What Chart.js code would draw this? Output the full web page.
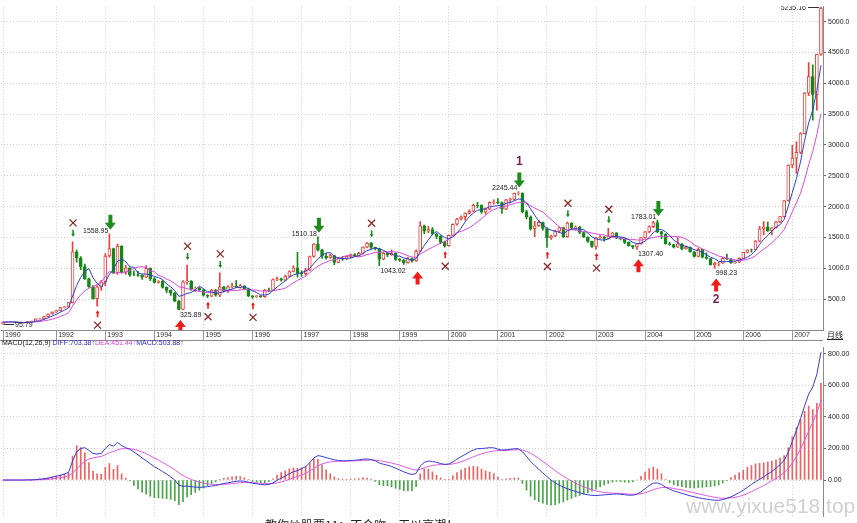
<!DOCTYPE html>
<html>
<head>
<meta charset="utf-8">
<script src="https://cdn.jsdelivr.net/npm/chart.js@4.4.0/dist/chart.umd.min.js"></script>
<style>
body { margin: 0; background: #fff; }
#wrap { position: relative; width: 857px; height: 523px; overflow: hidden; background: #fff; font-family: "Liberation Sans", Arial, sans-serif; }
canvas { position: absolute; left: 0; }
#main { top: 0; }
#macd { top: 341px; }
#macdTitle { position: absolute; left: 2px; top: 339px; font-size: 7px; line-height: 8px; white-space: nowrap; color: #111; font-family: "Liberation Sans", "DejaVu Sans", sans-serif; }
#yue { position: absolute; left: 827px; top: 330px; font-size: 8px; line-height: 10px; text-decoration: underline; color: #222; font-family: "Noto Sans CJK SC", sans-serif; }
#wm { position: absolute; left: 686px; top: 494px; font-size: 21px; color: rgba(170,170,170,0.55); white-space: nowrap; }
#caption { position: absolute; left: 265px; top: 516px; font-size: 12px; color: #222; white-space: nowrap; font-family: "Noto Sans CJK SC", sans-serif; }
</style>
</head>
<body>
<div id="wrap">
  <canvas id="main" width="857" height="341"></canvas>
  <canvas id="macd" width="857" height="182"></canvas>
  <div id="macdTitle">MACD(12,26,9) <span style="color:#2a2ad0">DIFF:703.38↑</span><span style="color:#d23cd2">DEA:451.44↑</span><span style="color:#2a2ad0">MACD:503.88↑</span></div>
  <div id="yue">月线</div>
  <div id="wm">www.yixue518.top</div>
  <div id="caption">教你炒股票11：不会吻，无以高潮！</div>
</div>
<script>
// monthly bars, Dec 1990 .. Aug 2007
const opens = [96,128,130,133,120,114,115,137,145,180,181,218,259,293,313,364,370,445,1266,1167,1028,830,700,510,700,780,1200,1320,926,1358,935,1007,896,893,886,857,1001,834,772,792,690,642,599,467,333,780,790,660,680,648,563,549,647,563,701,630,700,712,700,717,669,555,537,552,539,646,643,819,828,807,874,949,1007,917,915,970,1191,1393,1300,1200,1167,1205,1097,1166,1150,1194,1222,1206,1243,1343,1411,1339,1322,1150,1242,1217,1247,1146,1134,1090,1158,1120,1279,1689,1601,1627,1557,1517,1422,1367,1535,1715,1800,1836,1894,1928,2023,2021,1910,1961,2070,2073,2065,1958,2112,2119,2214,2218,1920,1834,1642,1690,1747,1646,1491,1524,1603,1662,1515,1733,1652,1670,1581,1507,1436,1357,1499,1511,1486,1521,1576,1487,1477,1421,1367,1348,1397,1497,1590,1675,1741,1595,1555,1399,1387,1342,1396,1320,1340,1266,1191,1306,1181,1159,1060,1080,1083,1162,1155,1092,1099,1161,1258,1299,1298,1440,1641,1672,1612,1658,1752,1837,2099,2675,2786,2881,3183,3841,4109,3820,4471];
const highs = [128,135,134,134,121,116,138,146,181,190,220,262,293,314,366,382,450,1429,1300,1190,1070,840,720,720,800,1240,1558.95,1330,1392,1370,1050,1010,960,950,900,1044,1010,850,800,800,700,650,610,480,800,1052,800,700,690,660,570,660,660,926,710,720,760,800,740,720,680,560,560,560,660,680,830,860,840,890,960,1040,1258,960,1000,1200,1400,1510.18,1310,1240,1230,1210,1180,1190,1200,1230,1240,1260,1350,1420,1422,1345,1330,1260,1250,1300,1250,1160,1140,1180,1170,1300,1756,1700,1680,1660,1570,1530,1440,1540,1720,1810,1850,1900,1950,2040,2070,2030,1980,2080,2110,2130,2080,2120,2140,2220,2245.44,2225,1940,1850,1760,1780,1750,1660,1540,1620,1670,1670,1748,1740,1690,1680,1590,1510,1440,1500,1530,1520,1649,1580,1580,1500,1480,1430,1370,1400,1500,1600,1690,1760,1783.01,1600,1560,1420,1390,1500,1400,1360,1350,1270,1330,1310,1250,1160,1100,1100,1180,1230,1160,1110,1170,1260,1300,1310,1450,1680,1757,1750,1660,1760,1840,2100,2680,2994,3049,3200,3850,4335,4300,4471,5235.16];
const lows = [95.79,127,129,118,110,105,114,136,144,176,180,216,258,285,310,355,365,440,1100,980,820,690,500,386.85,640,720,1180,920,900,920,900,870,880,870,820,850,800,760,760,680,600,560,460,325.89,330,740,640,620,630,550,524,540,550,540,620,610,680,690,680,650,540,512.83,530,530,530,620,640,800,790,800,860,940,855,870,890,960,1180,1280,1160,1150,1160,1060,1090,1130,1140,1170,1190,1200,1230,1330,1320,1300,1043.02,1140,1190,1210,1130,1110,1064,1085,1100,1110,1270,1560,1580,1540,1480,1400,1341,1360,1530,1700,1780,1780,1880,1920,1980,1890,1880,1950,2040,2050,1890,1950,2060,2100,2190,1900,1800,1620,1514,1680,1620,1339,1470,1510,1580,1500,1500,1640,1620,1560,1500,1420,1340,1311.68,1480,1440,1480,1500,1480,1460,1400,1360,1320,1307.4,1390,1490,1580,1660,1580,1480,1390,1370,1330,1340,1300,1310,1260,1180,1185,1170,1150,1050,998.23,1040,1080,1140,1080,1080,1095,1160,1250,1260,1290,1430,1540,1600,1540,1650,1740,1830,2090,2630,2540,2860,3180,3800,3404,3563,4450];
const closes = [128,130,133,120,114,115,137,145,180,181,218,259,292,313,364,370,445,1266,1167,1028,830,700,510,700,780,1200,1320,926,1358,935,1007,896,893,886,857,1001,834,772,792,690,642,599,467,333,780,790,660,680,648,563,549,647,563,701,630,700,712,700,717,669,555,537,552,539,646,643,819,828,807,874,949,1007,917,915,970,1191,1393,1300,1200,1167,1205,1097,1166,1150,1194,1222,1206,1243,1343,1411,1339,1322,1150,1242,1217,1247,1146,1134,1090,1158,1120,1279,1689,1601,1627,1557,1517,1422,1367,1535,1715,1800,1836,1894,1928,2023,2021,1910,1961,2070,2073,2065,1958,2112,2119,2214,2218,1920,1834,1642,1690,1747,1646,1491,1524,1603,1662,1515,1733,1652,1670,1581,1507,1436,1357,1499,1511,1486,1521,1576,1487,1477,1421,1367,1348,1397,1497,1590,1675,1741,1595,1555,1399,1387,1342,1396,1320,1340,1266,1191,1306,1181,1159,1060,1080,1083,1162,1155,1092,1099,1161,1258,1299,1298,1440,1641,1672,1612,1658,1752,1837,2099,2675,2786,2881,3183,3841,4109,3820,4471,5219];
const ma5 = [128,129,130,128,125,122,124,126,138,152,172,197,226,253,289,320,357,552,722,855,947,998,847,754,704,778,902,985,1117,1148,1109,1024,1018,923,908,907,894,870,851,818,746,699,638,546,564,594,606,649,712,668,620,617,594,605,618,648,661,689,692,700,671,636,606,570,566,583,640,695,749,794,855,893,911,932,952,1000,1077,1154,1211,1250,1253,1194,1167,1157,1162,1166,1188,1203,1242,1285,1308,1332,1313,1293,1254,1236,1200,1197,1167,1155,1130,1156,1267,1369,1463,1551,1598,1545,1498,1480,1511,1568,1651,1756,1835,1896,1940,1955,1969,1997,2007,2016,2025,2056,2065,2094,2124,2117,2061,1966,1861,1767,1712,1643,1620,1602,1585,1559,1607,1633,1646,1630,1629,1569,1510,1476,1462,1458,1475,1519,1516,1509,1496,1466,1420,1402,1406,1440,1501,1580,1620,1631,1593,1535,1456,1416,1369,1357,1333,1303,1285,1257,1221,1179,1157,1113,1109,1108,1114,1118,1134,1153,1182,1223,1291,1387,1470,1533,1605,1667,1706,1792,2004,2230,2456,2725,3073,3360,3567,3885,4292];
const ma10 = [128,129,130,128,125,123,125,127,133,138,147,160,176,195,220,246,277,389,488,572,633,678,699,738,780,863,950,916,935,926,944,963,1002,1020,1028,1008,959,944,887,863,826,797,754,699,691,670,653,643,629,616,607,612,621,658,643,634,639,641,648,659,659,648,647,631,633,627,638,651,660,680,719,766,803,841,873,928,985,1032,1072,1101,1127,1136,1160,1184,1206,1209,1191,1185,1199,1224,1237,1260,1258,1267,1270,1272,1266,1255,1230,1205,1183,1178,1232,1268,1309,1340,1377,1406,1434,1471,1531,1583,1598,1627,1657,1704,1754,1803,1862,1916,1952,1978,1990,2012,2031,2050,2070,2071,2058,2016,1977,1945,1914,1852,1793,1732,1676,1635,1625,1626,1624,1608,1594,1588,1572,1561,1546,1543,1522,1514,1496,1486,1477,1470,1469,1459,1458,1468,1484,1500,1511,1519,1516,1518,1518,1518,1500,1475,1434,1379,1350,1313,1289,1256,1230,1199,1183,1164,1147,1138,1123,1131,1145,1169,1205,1261,1312,1357,1414,1479,1547,1631,1768,1917,2061,2216,2432,2682,2898,3170,3508];
const diff = [0,0,0,0,0,0,1,1,3,5,8,12,18,24,30,38,48,120,180,200,205,188,168,165,168,200,225,215,238,218,205,195,178,160,140,122,103,85,70,54,38,20,0,-32,-40,-38,-42,-45,-46,-45,-42,-38,-35,-28,-22,-18,-12,-8,-6,-8,-14,-20,-24,-28,-30,-28,-18,-2,12,25,40,52,60,72,85,110,140,155,150,142,135,128,124,122,122,124,125,128,132,133,130,122,108,100,94,86,75,64,52,42,35,42,88,112,120,118,112,105,99,102,115,132,148,162,178,190,199,200,202,205,204,196,190,192,195,198,199,180,150,118,92,68,45,22,0,-18,-32,-45,-55,-65,-72,-80,-88,-93,-97,-98,-96,-94,-92,-90,-88,-90,-93,-96,-96,-90,-75,-55,-35,-20,-18,-28,-45,-58,-68,-76,-84,-92,-100,-106,-112,-117,-121,-125,-128,-128,-124,-116,-106,-94,-80,-64,-46,-28,-10,5,20,38,55,75,98,125,175,245,315,390,470,545,590,670,810];
const dea = [0,0,0,0,0,0,0,0,1,2,3,5,7,11,15,19,25,44,71,97,119,133,140,145,150,160,173,181,192,198,199,198,195,188,178,167,154,140,126,112,97,82,65,46,29,15,4,-6,-14,-20,-25,-27,-29,-29,-27,-25,-23,-20,-17,-15,-15,-16,-18,-20,-22,-23,-22,-18,-12,-5,4,14,23,33,43,57,73,90,102,110,115,118,119,119,120,121,122,123,125,126,127,126,123,118,113,108,101,94,85,77,68,63,68,77,86,92,96,98,98,99,102,108,116,125,136,147,157,166,173,179,184,187,187,188,190,191,193,190,182,169,154,137,118,99,79,60,42,24,8,-6,-20,-32,-43,-53,-62,-69,-74,-78,-81,-83,-84,-85,-87,-89,-90,-90,-87,-81,-72,-61,-53,-48,-47,-49,-53,-58,-63,-69,-75,-81,-87,-93,-99,-104,-109,-113,-115,-115,-113,-110,-104,-96,-86,-74,-61,-48,-35,-20,-5,11,28,48,73,108,149,197,252,310,366,427,504];
const macdBars = [0,0,0,0,0,0,2,1,4,7,10,14,21,27,31,37,46,152,218,206,172,110,56,40,36,80,104,68,92,40,12,-6,-34,-56,-77,-90,-103,-111,-113,-116,-118,-123,-131,-156,-137,-107,-92,-78,-64,-50,-35,-22,-12,1,11,15,21,24,22,14,2,-8,-13,-17,-17,-10,8,32,48,59,71,76,74,78,83,107,133,131,97,64,40,21,10,5,4,7,7,10,15,13,6,-8,-29,-36,-38,-43,-52,-60,-67,-69,-67,-42,40,70,69,52,32,14,2,6,26,48,64,74,84,87,84,69,58,51,39,19,5,8,11,13,12,-21,-64,-103,-124,-137,-147,-154,-159,-156,-147,-138,-127,-117,-105,-97,-90,-80,-71,-58,-43,-31,-22,-14,-8,-10,-13,-15,-12,0,24,51,73,82,69,39,4,-17,-30,-37,-42,-47,-50,-50,-49,-47,-44,-42,-38,-31,-18,-2,15,31,47,63,80,92,103,106,109,116,120,128,139,155,204,275,332,386,436,469,447,486,613];

const yearIdx = [0,13,25,37,49,61,73,85,97,109,121,133,145,157,169,181,193];
const yearNames = ['1990','1992','1993','1994','1995','1996','1997','1998','1999','2000','2001','2002','2003','2004','2005','2006','2007'];
const priceTicks = [500,1000,1500,2000,2500,3000,3500,4000,4500,5000];
const macdTicks = [0,200,400,600,800];

// signals on the price pane
const topSignals = [26, 77, 126, 160];
const bottomSignals = [43, 101, 155, 174];
const peakMarks = [17, 45, 53, 90, 138, 148];
const troughMarks = [23, 50, 61, 108, 133, 145];
const highLabels = [26, 77, 126, 160];
const lowLabels = [43, 92, 155, 174];

const months = [];
for (let i = 0; i < closes.length; i++) {
  const m = 11 + i;
  months.push((1990 + Math.floor(m / 12)) + '-' + String(m % 12 + 1).padStart(2, '0'));
}

const FONT = '"Liberation Sans", Arial, sans-serif';
const UP = '#e8403c', DOWN = '#16881a', GRID = '#cfcfcf';
const isUp = i => closes[i] >= opens[i];

const keepYears = axis => { axis.ticks = axis.ticks.filter(t => yearIdx.includes(t.value)); };
const yearLabel = v => { const k = yearIdx.indexOf(v); return k >= 0 ? yearNames[k] : ''; };

function arrow(ctx, x, tip, dir, s, color) {
  // dir 1 -> points down, -1 -> points up
  ctx.fillStyle = color;
  ctx.beginPath();
  ctx.moveTo(x, tip);
  ctx.lineTo(x - s.head / 2, tip - dir * s.headH);
  ctx.lineTo(x - s.shaft / 2, tip - dir * s.headH);
  ctx.lineTo(x - s.shaft / 2, tip - dir * s.len);
  ctx.lineTo(x + s.shaft / 2, tip - dir * s.len);
  ctx.lineTo(x + s.shaft / 2, tip - dir * s.headH);
  ctx.lineTo(x + s.head / 2, tip - dir * s.headH);
  ctx.closePath();
  ctx.fill();
}
function cross(ctx, x, y) {
  ctx.strokeStyle = '#8a2828';
  ctx.lineWidth = 1.3;
  ctx.beginPath();
  ctx.moveTo(x - 3.5, y - 3.5); ctx.lineTo(x + 3.5, y + 3.5);
  ctx.moveTo(x + 3.5, y - 3.5); ctx.lineTo(x - 3.5, y + 3.5);
  ctx.stroke();
}
const BIG = {head: 11, headH: 7, shaft: 4, len: 15};
const BIGUP = {head: 11, headH: 7, shaft: 4, len: 13};
const SMALL = {head: 4, headH: 3, shaft: 1.6, len: 7};

const signalPlugin = {
  id: 'signals',
  afterDatasetsDraw(chart) {
    const ctx = chart.ctx, xs = chart.scales.x, ys = chart.scales.y, a = chart.chartArea;
    const cx = i => xs.getPixelForValue(i);
    const hy = i => ys.getPixelForValue(highs[i]);
    const ly = i => ys.getPixelForValue(lows[i]);
    ctx.save();
    ctx.beginPath(); ctx.rect(a.left, a.top, a.right - a.left, a.bottom - a.top); ctx.clip();
    topSignals.forEach(i => arrow(ctx, cx(i) + 1, hy(i) - 4, 1, BIG, '#1c8c1c'));
    bottomSignals.forEach(i => arrow(ctx, cx(i) + 1.5, ly(i) + 10, -1, BIGUP, '#f01c1c'));
    peakMarks.forEach(i => { arrow(ctx, cx(i) + 0.5, hy(i) - 5, 1, SMALL, '#1c8c1c'); cross(ctx, cx(i) + 0.5, hy(i) - 19); });
    troughMarks.forEach(i => { arrow(ctx, cx(i) + 0.5, ly(i) + 4, -1, SMALL, '#f01c1c'); cross(ctx, cx(i) + 0.5, ly(i) + 19); });

    ctx.font = '7px ' + FONT;
    ctx.fillStyle = '#222';
    ctx.textBaseline = 'middle';
    ctx.textAlign = 'right';
    highLabels.forEach(i => ctx.fillText(highs[i].toFixed(2), cx(i) - 1, hy(i) - 3));
    ctx.textAlign = 'left';
    lowLabels.forEach(i => ctx.fillText(lows[i].toFixed(2), cx(i) + 1, ly(i) + 5));

    // leader labels at first low and last high
    ctx.strokeStyle = '#333'; ctx.lineWidth = 1;
    const f = 0, l = closes.length - 1;
    ctx.beginPath();
    ctx.moveTo(cx(f) + 1, Math.round(ly(f)) + 0.5); ctx.lineTo(cx(f) + 11, Math.round(ly(f)) + 0.5);
    ctx.moveTo(cx(l) - 2, Math.round(hy(l)) + 0.5); ctx.lineTo(cx(l) - 13, Math.round(hy(l)) + 0.5);
    ctx.stroke();
    ctx.fillText(lows[f].toFixed(2), cx(f) + 12, ly(f) + 1);
    ctx.textAlign = 'right';
    ctx.fillText(highs[l].toFixed(2), cx(l) - 15, hy(l) + 1);

    ctx.font = 'bold 12px ' + FONT;
    ctx.fillStyle = '#7b1c4c';
    ctx.textAlign = 'center';
    ctx.fillText('1', cx(topSignals[2]) + 1, hy(topSignals[2]) - 30);
    ctx.fillText('2', cx(bottomSignals[3]) + 1.5, ly(bottomSignals[3]) + 31);
    ctx.restore();

    // lower border of the year strip
    ctx.save();
    ctx.strokeStyle = '#8a8a8a'; ctx.lineWidth = 1;
    ctx.beginPath(); ctx.moveTo(0, 340.5); ctx.lineTo(a.right, 340.5); ctx.stroke();
    ctx.restore();
  }
};

new Chart(document.getElementById('main'), {
  type: 'bar',
  data: {
    labels: months,
    datasets: [
      {type: 'line', data: ma5, borderColor: '#2f3fd0', borderWidth: 1, pointRadius: 0, tension: 0, order: 0},
      {type: 'line', data: ma10, borderColor: '#d94ad9', borderWidth: 1, pointRadius: 0, tension: 0, order: 0},
      {
        data: opens.map((o, i) => [o, closes[i]]),
        backgroundColor: closes.map((c, i) => isUp(i) ? '#ffffff' : DOWN),
        borderColor: closes.map((c, i) => isUp(i) ? UP : DOWN),
        borderWidth: 1, borderSkipped: false, barThickness: 3, grouped: false, order: 1
      },
      {
        data: lows.map((lo, i) => [lo, highs[i]]),
        backgroundColor: closes.map((c, i) => isUp(i) ? UP : DOWN),
        borderWidth: 0, barThickness: 1, grouped: false, order: 2
      }
    ]
  },
  options: {
    animation: false, responsive: false, devicePixelRatio: 1,
    layout: {padding: {left: 1, right: 0, top: 0, bottom: 0}},
    plugins: {legend: {display: false}, tooltip: {enabled: false}},
    scales: {
      x: {
        offset: true,
        grid: {offset: false, color: GRID, tickLength: 11, tickColor: '#999', tickBorderDash: []},
        border: {display: true, color: '#8a8a8a', dash: [1, 2]},
        ticks: {autoSkip: false, maxRotation: 0, minRotation: 0, align: 'start', labelOffset: 2, padding: -10,
                font: {size: 7, family: FONT}, color: '#333', callback: yearLabel},
        afterBuildTicks: keepYears,
        afterFit: axis => { axis.height = 11; }
      },
      y: {
        position: 'right', min: 0, max: 5250,
        grid: {color: GRID, tickLength: 3, tickColor: '#666', tickBorderDash: []},
        border: {color: '#8a8a8a', dash: [1, 2]},
        ticks: {autoSkip: false, padding: 2, font: {size: 7, family: FONT}, color: '#222', callback: v => Number(v).toFixed(1)},
        afterBuildTicks: axis => { axis.ticks = priceTicks.map(v => ({value: v})); },
        afterFit: axis => { axis.width = 34; }
      }
    }
  },
  plugins: [signalPlugin]
});

new Chart(document.getElementById('macd'), {
  type: 'bar',
  data: {
    labels: months,
    datasets: [
      {type: 'line', data: diff, borderColor: '#3a3ad4', borderWidth: 1, pointRadius: 0, tension: 0, order: 0},
      {type: 'line', data: dea, borderColor: '#e05ae0', borderWidth: 1, pointRadius: 0, tension: 0, order: 0},
      {data: macdBars, backgroundColor: macdBars.map(v => v >= 0 ? '#e86464' : '#46a646'),
       borderWidth: 0, barThickness: 1, grouped: false, order: 1}
    ]
  },
  options: {
    animation: false, responsive: false, devicePixelRatio: 1,
    layout: {padding: {left: 1, right: 0, top: 2, bottom: 0}},
    plugins: {legend: {display: false}, tooltip: {enabled: false}},
    scales: {
      x: {
        offset: true,
        grid: {offset: false, color: GRID, drawTicks: false},
        border: {display: false, dash: [1, 2]},
        ticks: {display: false, autoSkip: false},
        afterBuildTicks: keepYears,
        afterFit: axis => { axis.height = 0; }
      },
      y: {
        position: 'right', min: -233, max: 842,
        grid: {color: GRID, tickLength: 3, tickColor: '#666', tickBorderDash: []},
        border: {color: '#8a8a8a', dash: [1, 2]},
        ticks: {autoSkip: false, padding: 2, font: {size: 7, family: FONT}, color: '#222', callback: v => Number(v).toFixed(2)},
        afterBuildTicks: axis => { axis.ticks = macdTicks.map(v => ({value: v})); },
        afterFit: axis => { axis.width = 34; }
      }
    }
  }
});
</script>
</body>
</html>
